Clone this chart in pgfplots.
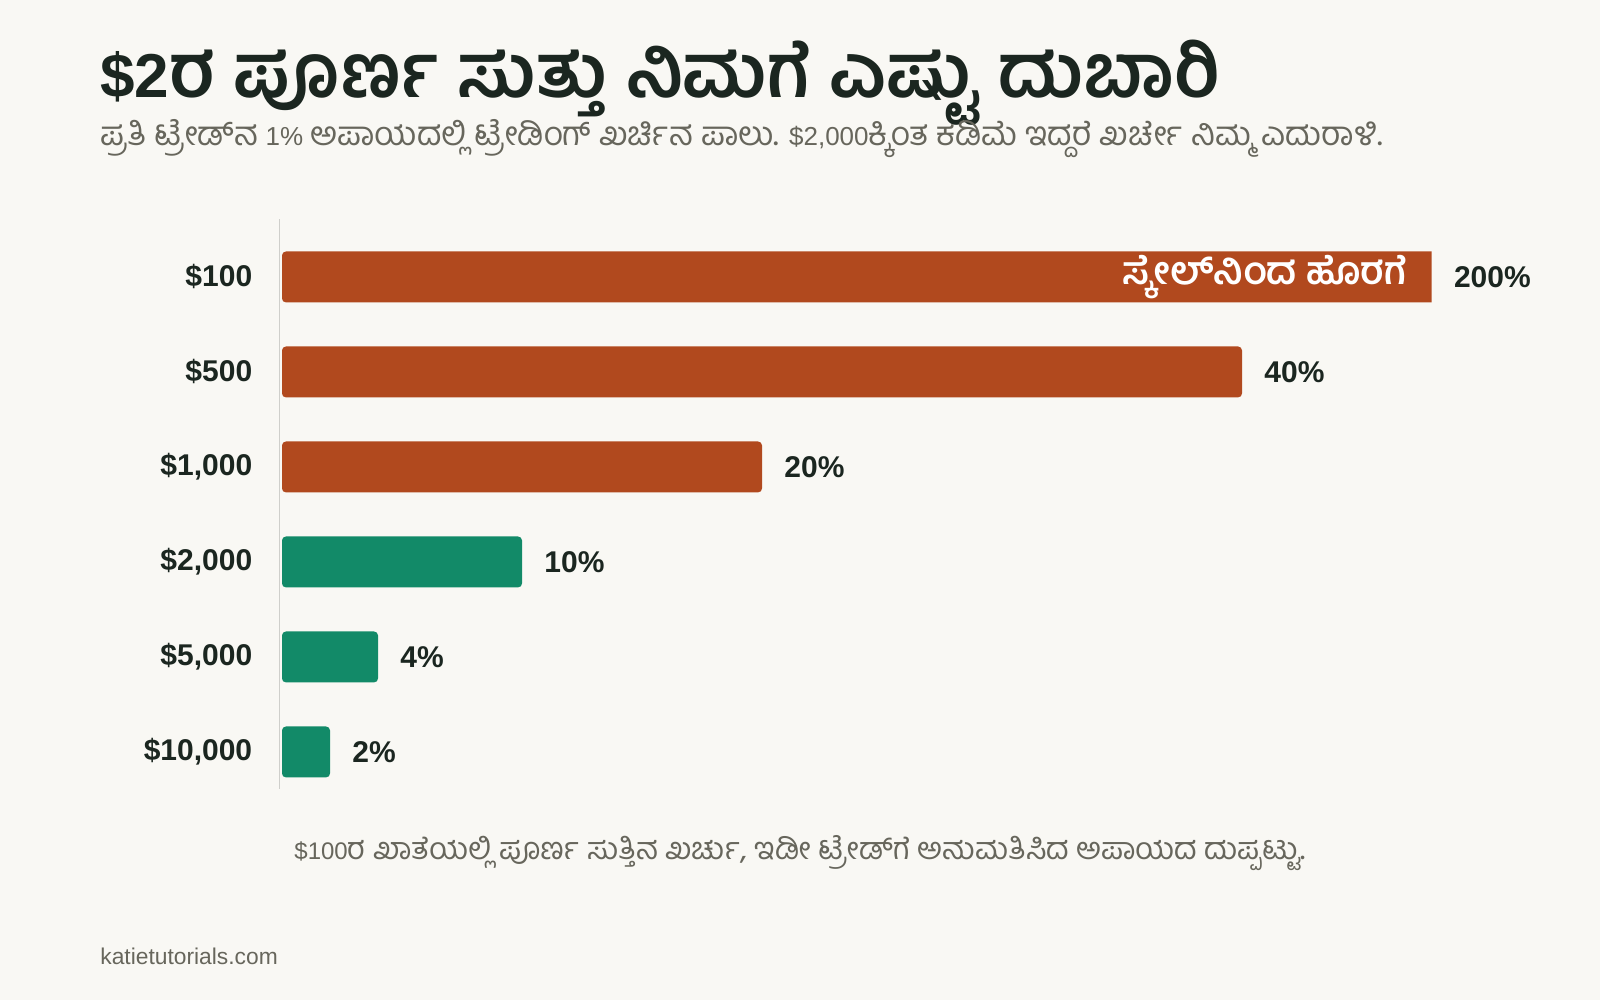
\documentclass[border=0pt]{standalone}
\usepackage{fontspec}
\setmainfont{Liberation Sans}
\newfontfamily\kn[Script=Kannada, Scale=1.28]{Hind Mysuru}
\newfontfamily\knt[Script=Kannada, Scale=1.2]{Hind Mysuru}
\usepackage{pgfplots}
\pgfplotsset{compat=1.18}

\definecolor{bg}{HTML}{F9F8F4}
\definecolor{ink}{HTML}{1B2620}
\definecolor{rust}{HTML}{B1491E}
\definecolor{gteal}{HTML}{128A68}
\definecolor{subg}{HTML}{67665C}
\definecolor{axl}{HTML}{CFCFCB}

\begin{document}
\begin{tikzpicture}[x=1pt,y=1pt]
% 1 px of the 1600x1000 reference = 0.5pt
\fill[bg] (0,0) rectangle (800,500);

\node[anchor=base west, inner sep=0, text=ink, font=\bfseries\fontsize{31}{36}\selectfont]
  at (50,451) {\$2{\knt ರ ಪೂರ್ಣ ಸುತ್ತು ನಿಮಗೆ ಎಷ್ಟು ದುಬಾರಿ}};
\node[anchor=base west, inner sep=0, text=subg, font=\fontsize{13}{16}\selectfont]
  at (50,427) {{\kn ಪ್ರತಿ ಟ್ರೇಡ್‌ನ} 1\% {\kn ಅಪಾಯದಲ್ಲಿ ಟ್ರೇಡಿಂಗ್ ಖರ್ಚಿನ ಪಾಲು.} \$2,000{\kn ಕ್ಕಿಂತ ಕಡಿಮೆ ಇದ್ದರೆ ಖರ್ಚೇ ನಿಮ್ಮ ಎದುರಾಳಿ.}};

\begin{axis}[
    at={(139.8pt,105.5pt)}, anchor=south west,
    scale only axis,
    width=576pt, height=285pt,
    xmin=-0.1, xmax=47.9,
    ymin=-0.39, ymax=5.61,
    xbar, bar shift=0pt, bar width=25.5pt,
    axis x line=none,
    axis y line=left,
    y axis line style={-, draw=axl, line width=0.7pt},
    major tick length=0pt,
    ytick={0,1,2,3,4,5},
    yticklabels={\$10{,}000,\$5{,}000,\$2{,}000,\$1{,}000,\$500,\$100},
    yticklabel style={anchor=east, inner sep=0pt, xshift=-13.5pt,
        text=ink, font=\bfseries\fontsize{15}{18}\selectfont},
    point meta=x,
    /pgf/number format/assume math mode=true,
    every node near coord/.append style={anchor=west, inner sep=0pt, xshift=11pt,
        text=ink, font=\bfseries\fontsize{15}{18}\selectfont},
    ]
  % $100 account: 200%, runs off the scale
  \addplot[fill=rust, draw=none, rounded corners=2pt] coordinates {(200,5)};
  \addplot[fill=rust, draw=none, rounded corners=2pt,
      nodes near coords={\pgfmathprintnumber{\pgfplotspointmeta}\%}]
      coordinates {(40,4) (20,3)};
  \addplot[fill=gteal, draw=none, rounded corners=2pt,
      nodes near coords={\pgfmathprintnumber{\pgfplotspointmeta}\%}]
      coordinates {(10,2) (4,1) (2,0)};

  \coordinate (offscale) at (axis cs:47.9,5);
\end{axis}

\node[anchor=east, inner sep=0pt, xshift=-12pt, text=white,
    font=\bfseries\fontsize{15}{18}\selectfont]
    at (offscale) {\kn ಸ್ಕೇಲ್‌ನಿಂದ ಹೊರಗೆ};
\node[anchor=west, inner sep=0pt, xshift=11pt, text=ink,
    font=\bfseries\fontsize{15}{18}\selectfont]
    at (offscale) {200\%};

\node[anchor=base, inner sep=0, text=subg, font=\fontsize{12}{15}\selectfont]
  at (400,70) {\$100{\kn ರ ಖಾತೆಯಲ್ಲಿ ಪೂರ್ಣ ಸುತ್ತಿನ ಖರ್ಚು, ಇಡೀ ಟ್ರೇಡ್‌ಗೆ ಅನುಮತಿಸಿದ ಅಪಾಯದ ದುಪ್ಪಟ್ಟು.}};
\node[anchor=base west, inner sep=0, text=subg, font=\fontsize{11.4}{14}\selectfont]
  at (50,17.5) {katietutorials.com};
\end{tikzpicture}
\end{document}
